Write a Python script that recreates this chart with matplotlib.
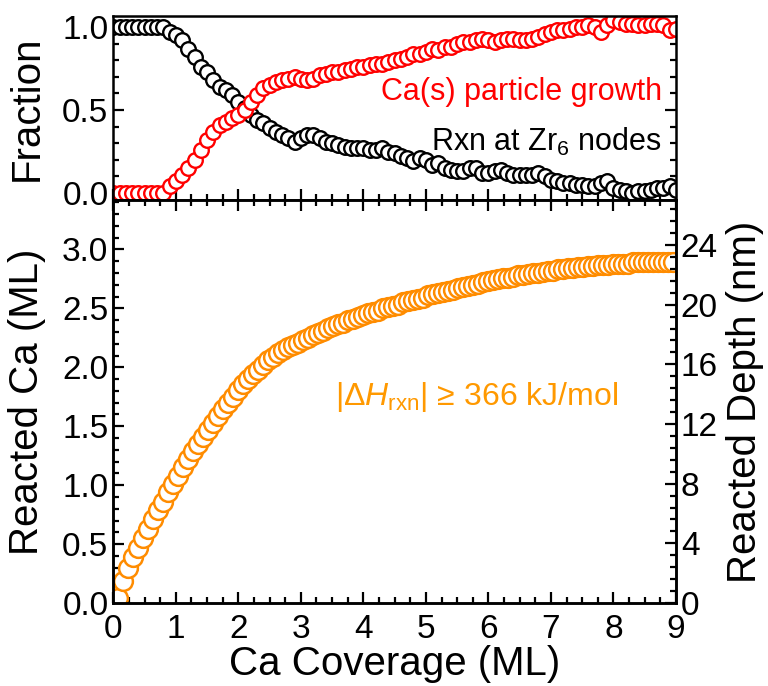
import numpy as np
import matplotlib
matplotlib.use("Agg")
import matplotlib.pyplot as plt
from matplotlib.ticker import MultipleLocator

plt.rcParams['font.family'] = ['Liberation Sans', 'DejaVu Sans']
plt.rcParams['mathtext.fontset'] = 'custom'
plt.rcParams['mathtext.rm'] = 'Liberation Sans'
plt.rcParams['mathtext.it'] = 'Liberation Sans:italic'

# top panel: fraction vs Ca coverage (step 0.1 ML)
coverage = np.round(np.arange(0, 9.01, 0.1), 1)
zr6_nodes = [1.0, 1.0, 1.0, 1.0, 1.0, 1.0, 1.0, 1.0, 1.0,
             0.97, 0.95, 0.92, 0.87, 0.82, 0.76, 0.73, 0.68, 0.64, 0.62, 0.59,
             0.55, 0.51, 0.47, 0.44, 0.42, 0.39, 0.37, 0.35, 0.33, 0.31,
             0.33, 0.35, 0.35, 0.33, 0.31, 0.30, 0.29, 0.28, 0.27, 0.27,
             0.27, 0.26, 0.26, 0.27, 0.25, 0.24, 0.22, 0.21, 0.19, 0.21,
             0.20, 0.17, 0.18, 0.15, 0.14, 0.13, 0.13, 0.15, 0.15, 0.12,
             0.12, 0.13, 0.14, 0.12, 0.11, 0.11, 0.11, 0.11, 0.12, 0.10,
             0.08, 0.07, 0.06, 0.06, 0.05, 0.05, 0.04, 0.04, 0.06, 0.07,
             0.03, 0.02, 0.01, 0.00, 0.01, 0.01, 0.02, 0.03, 0.03, 0.04,
             0.02]
particle_growth = [0.0, 0.0, 0.0, 0.0, 0.0, 0.0, 0.0, 0.0, 0.0,
                   0.04, 0.07, 0.11, 0.15, 0.20, 0.26, 0.32, 0.37, 0.41, 0.43, 0.45,
                   0.47, 0.50, 0.55, 0.59, 0.63, 0.65, 0.67, 0.68, 0.69, 0.70,
                   0.69, 0.68, 0.69, 0.71, 0.72, 0.73, 0.73, 0.74, 0.75, 0.76,
                   0.76, 0.77, 0.78, 0.78, 0.79, 0.80, 0.81, 0.82, 0.84, 0.84,
                   0.85, 0.87, 0.86, 0.88, 0.88, 0.90, 0.91, 0.91, 0.92, 0.93,
                   0.92, 0.91, 0.92, 0.93, 0.93, 0.92, 0.92, 0.93, 0.94, 0.96,
                   0.97, 0.98, 0.98, 0.99, 1.00, 1.00, 1.01, 1.00, 0.97, 1.01,
                   1.04, 1.03, 1.02, 1.02, 1.01, 1.01, 1.02, 1.02, 1.01, 0.98,
                   0.99]

# bottom panel: reacted Ca (step 0.08 ML)
coverage_b = np.round(np.arange(0.08, 9.0, 0.08), 2)
reacted_ca = [0.04, 0.19, 0.30, 0.39, 0.47, 0.55, 0.63, 0.71, 0.79, 0.86,
              0.94, 1.01, 1.08, 1.15, 1.22, 1.29, 1.35, 1.41, 1.47, 1.53,
              1.59, 1.65, 1.70, 1.75, 1.81, 1.86, 1.90, 1.94, 1.98, 2.02,
              2.06, 2.09, 2.12, 2.15, 2.17, 2.19, 2.21, 2.23, 2.25, 2.27,
              2.29, 2.31, 2.33, 2.35, 2.37, 2.38, 2.40, 2.41, 2.43, 2.44,
              2.46, 2.47, 2.48, 2.50, 2.51, 2.52, 2.53, 2.55, 2.56, 2.57,
              2.58, 2.59, 2.61, 2.62, 2.63, 2.64, 2.65, 2.66, 2.67, 2.68,
              2.69, 2.70, 2.71, 2.72, 2.73, 2.74, 2.75, 2.76, 2.76, 2.77,
              2.78, 2.78, 2.79, 2.80, 2.80, 2.81, 2.82, 2.82, 2.83, 2.83,
              2.84, 2.84, 2.85, 2.85, 2.86, 2.86, 2.87, 2.87, 2.87, 2.88,
              2.88, 2.88, 2.88, 2.89, 2.89, 2.89, 2.89, 2.89, 2.89, 2.89,
              2.89, 2.89]
nm_per_ml = 7.9

fig = plt.figure(figsize=(7.68, 6.86), dpi=100)
ax1 = fig.add_axes([0.1475, 0.7085, 0.7327, 0.268])
ax2 = fig.add_axes([0.1475, 0.121, 0.7327, 0.5875])

ax1.plot(coverage, zr6_nodes, 'o', ms=10.5, mfc='white', mec='black', mew=1.7)
ax1.plot(coverage, particle_growth, 'o', ms=10.5, mfc='white', mec='red', mew=1.7)
ax2.plot(coverage_b, reacted_ca, 'o', ms=13.5, mfc='white', mec='#FF8C00', mew=1.8)

ax1.set_xlim(0, 9)
ax1.set_ylim(-0.042, 1.066)
ax2.set_xlim(0, 9)
ax2.set_ylim(0, 3.42)
ax3 = ax2.twinx()
ax3.set_ylim(0, 3.42 * nm_per_ml)

for ax in (ax1, ax2, ax3):
    for s in ax.spines.values():
        s.set_linewidth(1.8)
    ax.tick_params(which='both', direction='in', width=1.6, labelsize=24)
    ax.tick_params(which='major', length=8)
    ax.tick_params(which='minor', length=4.5)
    ax.xaxis.set_major_locator(MultipleLocator(1))
    ax.xaxis.set_minor_locator(MultipleLocator(0.25))

ax1.yaxis.set_major_locator(MultipleLocator(0.5))
ax1.yaxis.set_minor_locator(MultipleLocator(0.1))
ax1.tick_params(which='both', top=False, bottom=True, left=True, right=True, labelbottom=False)
ax2.yaxis.set_major_locator(MultipleLocator(0.5))
ax2.yaxis.set_minor_locator(MultipleLocator(0.1))
ax2.tick_params(which='both', top=True, bottom=True, left=True, right=False)
ax3.yaxis.set_major_locator(MultipleLocator(4))
ax3.yaxis.set_minor_locator(MultipleLocator(0.8))
ax1.yaxis.set_major_formatter(matplotlib.ticker.FormatStrFormatter('%.1f'))
ax2.yaxis.set_major_formatter(matplotlib.ticker.FormatStrFormatter('%.1f'))
ax2.tick_params(axis='x', pad=8)

ax1.set_ylabel('Fraction', fontsize=29)
ax2.set_ylabel('Reacted Ca (ML)', fontsize=29)
ax3.set_ylabel('Reacted Depth (nm)', fontsize=29, labelpad=6)
ax2.set_xlabel('Ca Coverage (ML)', fontsize=29, labelpad=0)
ax1.yaxis.set_label_coords(-0.12, 0.5)
ax2.yaxis.set_label_coords(-0.12, 0.5)

ax1.text(8.78, 0.607, 'Ca(s) particle growth', color='red', fontsize=22,
         ha='right', va='center')
ax1.text(8.78, 0.305, 'Rxn at Zr$_6$ nodes', color='black', fontsize=22,
         ha='right', va='center')
ax2.text(3.54, 1.745, '|Δ$H_{\\mathrm{rxn}}$| ≥ 366 kJ/mol', color='#FF9900',
         fontsize=23, ha='left', va='center')

fig.savefig('out.png', dpi=100)
